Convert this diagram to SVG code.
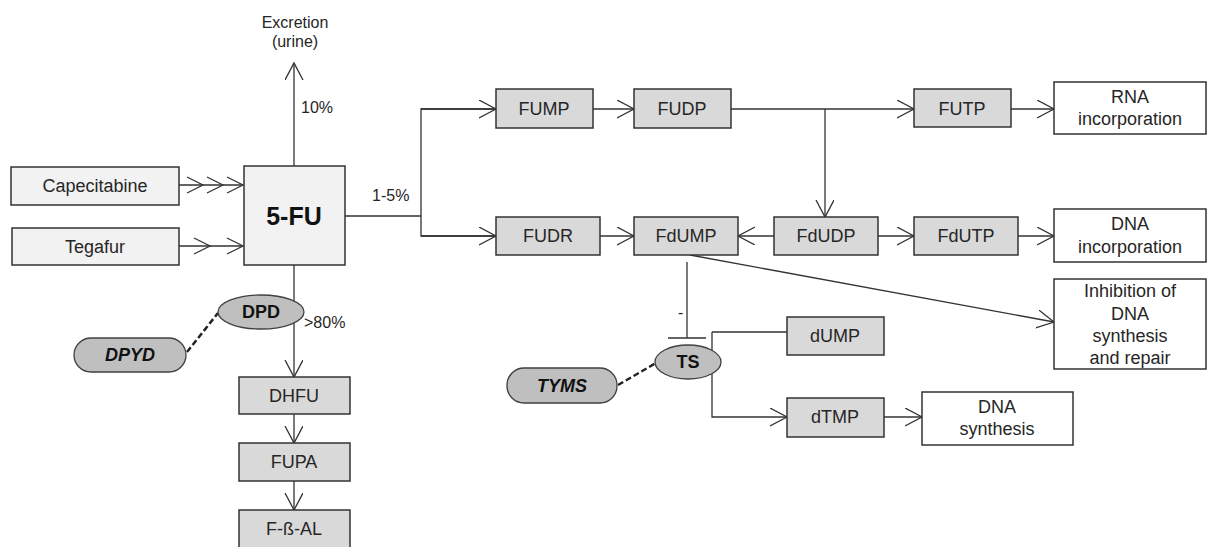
<svg xmlns="http://www.w3.org/2000/svg" width="1208" height="547" viewBox="0 0 1208 547">
<style>
.bx{fill:#d9d9d9;stroke:#333;stroke-width:1.5}
.lt{fill:#f2f2f2;stroke:#333;stroke-width:1.5}
.wh{fill:#fff;stroke:#333;stroke-width:1.5}
.el{fill:#bfbfbf;stroke:#404040;stroke-width:1.3}
.t{font-family:"Liberation Sans",Arial,sans-serif;font-size:18px;fill:#262626;text-anchor:middle}
.s{font-family:"Liberation Sans",Arial,sans-serif;font-size:16px;fill:#262626}
.b{font-weight:bold;fill:#111}
.c{fill:none;stroke:#333;stroke-width:1.3}
</style>
<defs>
<marker id="arr" viewBox="0 0 20 20" markerWidth="20" markerHeight="20" refX="17" refY="9" orient="auto" markerUnits="userSpaceOnUse">
<path d="M0,0 L17,9 L0,18" fill="none" stroke="#333" stroke-width="1.3"/>
</marker>
</defs>
<g id="connectors">
<line class="c" x1="294" y1="166" x2="294" y2="63" marker-end="url(#arr)"/>
<line class="c" x1="179" y1="185" x2="243" y2="185"/>
<path class="c" d="M187,177 L203,185 L187,193 M207,177 L223,185 L207,193 M227,177 L243,185 L227,193"/>
<line class="c" x1="179" y1="246" x2="243" y2="246"/>
<path class="c" d="M194,238 L210,246 L194,254 M227,238 L243,246 L227,254"/>
<path class="c" d="M345,216 L421,216"/>
<path class="c" d="M496,109 L421,109 L421,236 L496,236"/>
<line class="c" x1="421" y1="109" x2="496" y2="109" marker-end="url(#arr)"/>
<line class="c" x1="421" y1="236" x2="496" y2="236" marker-end="url(#arr)"/>
<line class="c" x1="593" y1="109" x2="634" y2="109" marker-end="url(#arr)"/>
<line class="c" x1="731" y1="109" x2="914" y2="109" marker-end="url(#arr)"/>
<line class="c" x1="825" y1="109" x2="825" y2="217" marker-end="url(#arr)"/>
<line class="c" x1="1011" y1="109" x2="1054" y2="109" marker-end="url(#arr)"/>
<line class="c" x1="600" y1="236" x2="634" y2="236" marker-end="url(#arr)"/>
<line class="c" x1="774" y1="236" x2="738" y2="236" marker-end="url(#arr)"/>
<line class="c" x1="878" y1="236" x2="914" y2="236" marker-end="url(#arr)"/>
<line class="c" x1="1018" y1="236" x2="1054" y2="236" marker-end="url(#arr)"/>
<line class="c" x1="690" y1="255" x2="1054" y2="322" marker-end="url(#arr)"/>
<line class="c" x1="687" y1="262" x2="687" y2="338"/>
<line class="c" x1="668" y1="338" x2="706" y2="338" stroke-width="1.6"/>
<line class="c" x1="712" y1="332" x2="787" y2="332"/>
<path class="c" d="M712,332 L712,417 L787,417" marker-end="url(#arr)"/>
<line class="c" x1="884" y1="417" x2="922" y2="417" marker-end="url(#arr)"/>
<line class="c" x1="294" y1="265" x2="294" y2="377" marker-end="url(#arr)"/>
<line class="c" x1="294" y1="414" x2="294" y2="443" marker-end="url(#arr)"/>
<line class="c" x1="294" y1="481" x2="294" y2="510" marker-end="url(#arr)"/>
<line x1="187" y1="352" x2="218" y2="313" stroke="#222" stroke-width="2.5" stroke-dasharray="6,3"/>
<line x1="618" y1="385" x2="656" y2="363" stroke="#222" stroke-width="2.5" stroke-dasharray="6,3"/>
</g>
<g id="labels">
<text class="s" x="295" y="28" text-anchor="middle">Excretion</text>
<text class="s" x="295" y="47" text-anchor="middle">(urine)</text>
<text class="s" x="301" y="113">10%</text>
<text class="s" x="372" y="201">1-5%</text>
<text class="s" x="304" y="328">&gt;80%</text>
<text class="s" x="678" y="318">-</text>
</g>
<g id="n-capecitabine"><rect class="lt" x="11" y="167" width="168" height="38"/><text class="t" x="95" y="192">Capecitabine</text></g>
<g id="n-tegafur"><rect class="lt" x="12" y="228" width="167" height="37"/><text class="t" x="95" y="253">Tegafur</text></g>
<g id="n-5fu"><rect class="lt" x="244" y="166" width="101" height="99"/><text class="t b" x="294" y="225" style="font-size:25px">5-FU</text></g>
<g id="n-dpd"><ellipse class="el" cx="261" cy="312" rx="43" ry="17"/><text class="t b" x="261" y="318">DPD</text></g>
<g id="n-dpyd"><rect class="el" x="74" y="338" width="112" height="34" rx="17"/><text class="t b" x="130" y="361" font-style="italic">DPYD</text></g>
<g id="n-dhfu"><rect class="bx" x="239" y="377" width="111" height="37"/><text class="t" x="294" y="402">DHFU</text></g>
<g id="n-fupa"><rect class="bx" x="239" y="443" width="111" height="38"/><text class="t" x="294" y="468">FUPA</text></g>
<g id="n-fbal"><rect class="bx" x="239" y="510" width="111" height="40"/><text class="t" x="294" y="535">F-ß-AL</text></g>
<g id="n-fump"><rect class="bx" x="496" y="89" width="97" height="39"/><text class="t" x="544" y="115">FUMP</text></g>
<g id="n-fudp"><rect class="bx" x="634" y="89" width="97" height="39"/><text class="t" x="682" y="115">FUDP</text></g>
<g id="n-futp"><rect class="bx" x="914" y="89" width="97" height="38"/><text class="t" x="962" y="115">FUTP</text></g>
<g id="n-rna"><rect class="wh" x="1054" y="82" width="152" height="52"/><text class="t" x="1130" y="103">RNA</text><text class="t" x="1130" y="125">incorporation</text></g>
<g id="n-fudr"><rect class="bx" x="496" y="217" width="104" height="38"/><text class="t" x="548" y="242">FUDR</text></g>
<g id="n-fdump"><rect class="bx" x="634" y="217" width="104" height="38"/><text class="t" x="686" y="242">FdUMP</text></g>
<g id="n-fdudp"><rect class="bx" x="774" y="217" width="104" height="38"/><text class="t" x="826" y="242">FdUDP</text></g>
<g id="n-fdutp"><rect class="bx" x="914" y="217" width="104" height="38"/><text class="t" x="966" y="242">FdUTP</text></g>
<g id="n-dna-inc"><rect class="wh" x="1054" y="209" width="152" height="53"/><text class="t" x="1130" y="230">DNA</text><text class="t" x="1130" y="253">incorporation</text></g>
<g id="n-inhib"><rect class="wh" x="1054" y="279" width="152" height="90"/><text class="t" x="1130" y="297">Inhibition of</text><text class="t" x="1130" y="320">DNA</text><text class="t" x="1130" y="342">synthesis</text><text class="t" x="1130" y="364">and repair</text></g>
<g id="n-ts"><ellipse class="el" cx="688" cy="362" rx="33" ry="17"/><text class="t b" x="688" y="368">TS</text></g>
<g id="n-tyms"><rect class="el" x="507" y="368" width="110" height="35" rx="17"/><text class="t b" x="562" y="392" font-style="italic">TYMS</text></g>
<g id="n-dump"><rect class="bx" x="787" y="317" width="97" height="38"/><text class="t" x="835" y="342">dUMP</text></g>
<g id="n-dtmp"><rect class="bx" x="787" y="398" width="97" height="39"/><text class="t" x="835" y="423">dTMP</text></g>
<g id="n-dna-syn"><rect class="wh" x="922" y="392" width="151" height="53"/><text class="t" x="997" y="413">DNA</text><text class="t" x="997" y="435">synthesis</text></g>
</svg>
